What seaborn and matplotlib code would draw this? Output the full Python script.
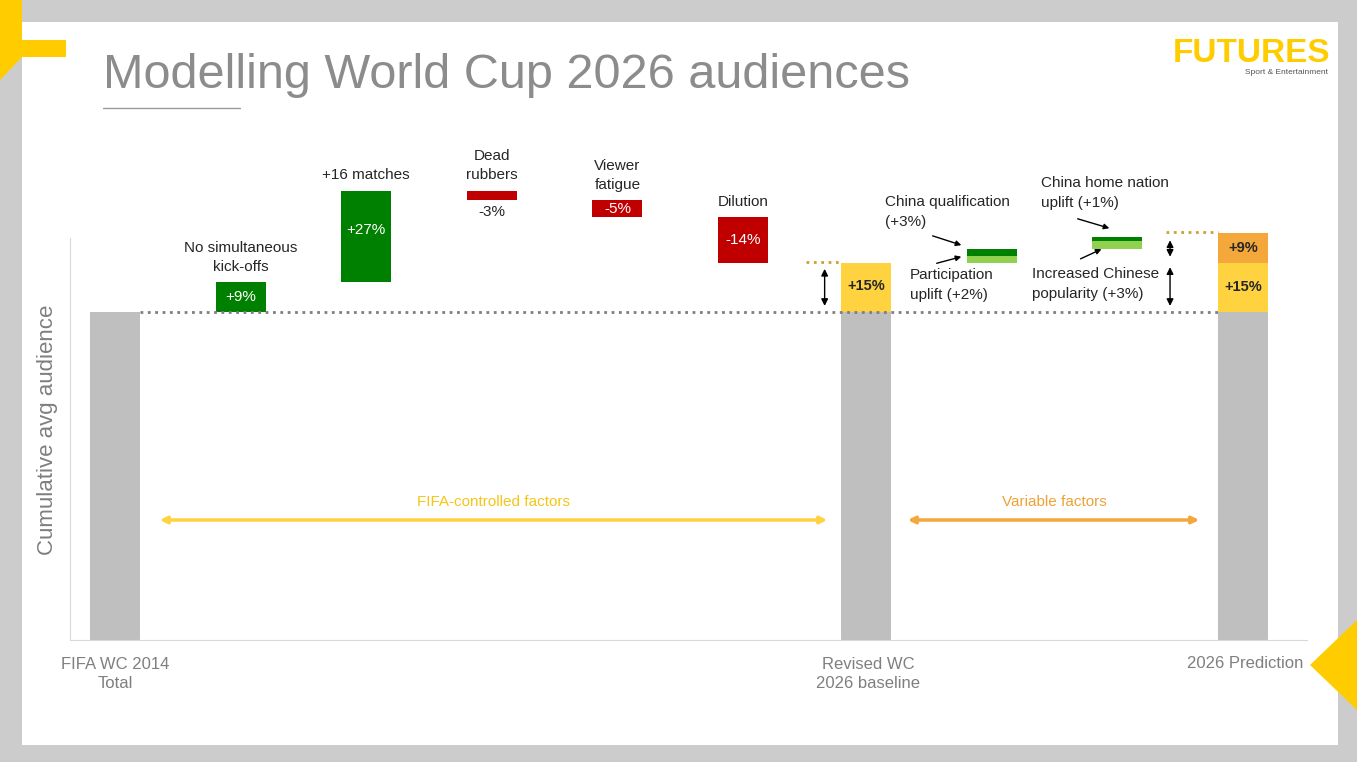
import numpy as np
import pandas as pd
import seaborn as sns
import matplotlib.pyplot as plt
from matplotlib.patches import Rectangle, Polygon

# ---- data ----
steps = ["No simultaneous\nkick-offs", "+16 matches", "Dead\nrubbers", "Viewer\nfatigue", "Dilution"]
step_vals = [9, 28, -3, -5, -14]
step_labels = ["+9%", "+27%", "-3%", "-5%", "-14%"]
base_total = 100
baseline_uplift = 15
variable_uplift = 9
china_light = [2, 2.4]      # participation uplift / increased popularity
china_dark = [2.2, 1.2]     # qualification / home nation uplift
total_labels = ["FIFA WC 2014\nTotal", "Revised WC\n2026 baseline", "2026 Prediction"]

W, H = 1357, 762
GREEN, LGREEN, RED, GREY = "#008000", "#92d050", "#c00000", "#bfbfbf"
YELLOW, ORANGE = "#ffd23f", "#f4a73a"

sns.set_style("white")
plt.rcParams["font.family"] = ["Liberation Sans", "DejaVu Sans"]
plt.rcParams["patch.linewidth"] = 0

fig = plt.figure(figsize=(W / 100, H / 100), dpi=100)
fig.patch.set_facecolor("#cccccc")
bg = fig.add_axes([0, 0, 1, 1])
bg.set_xlim(0, W); bg.set_ylim(H, 0); bg.axis("off")
bg.add_patch(Rectangle((22, 22), 1316, 723, color="white"))
bg.add_patch(Polygon([(0, 0), (22, 0), (22, 40), (66, 40), (66, 57), (22, 57), (0, 80)], color="#ffcc00"))
bg.add_patch(Polygon([(1357, 620), (1310, 665), (1357, 710)], color="#ffcc00"))
bg.text(103, 75, "Modelling World Cup 2026 audiences", fontsize=35, color="#8c8c8c", va="center")
bg.plot([103, 240], [108, 108], color="#999999", lw=1)
bg.text(1330, 53, "FUTURES", fontsize=24, color="#ffcc00", fontweight="bold", ha="right", va="center")
bg.text(1328, 72, "Sport & Entertainment", fontsize=6, color="#555555", ha="right", va="center")
bg.text(48, 430, "Cumulative avg audience", rotation=90, fontsize=16, color="#7f7f7f", ha="center", va="center")

# main axes: x unit = 125.6 px, y unit = 3.28 px
px0, sx, py0, sy = 115, 125.6, 640, 3.28
ax = fig.add_axes([70 / W, (H - 640) / H, 1237 / W, 510 / H])
ax.set_xlim((70 - px0) / sx, (1307 - px0) / sx)
ax.set_ylim(0, 510 / sy)
ax.patch.set_alpha(0)
for s in ["top", "right"]:
    ax.spines[s].set_visible(False)
ax.spines["left"].set_bounds(0, (640 - 238) / sy)
ax.spines["left"].set_color("#d9d9d9")
ax.spines["bottom"].set_color("#d9d9d9")
ax.set_xticks([]); ax.set_yticks([])
bw = 50 / sx

# totals
tot = pd.DataFrame({"x": [0, 5.98, 8.98], "y": [base_total] * 3})
ax.bar(tot["x"], tot["y"], width=bw, color=GREY, lw=0)
ax.bar(5.98, baseline_uplift, bottom=base_total, width=bw, color=YELLOW, lw=0)
ax.bar(8.98, baseline_uplift, bottom=base_total, width=bw, color=YELLOW, lw=0)
ax.bar(8.98, variable_uplift, bottom=base_total + baseline_uplift, width=bw, color=ORANGE, lw=0)
ax.text(5.98, base_total + 8, "+15%", ha="center", va="center", fontsize=10.5, fontweight="bold")
ax.text(8.98, base_total + 7.5, "+15%", ha="center", va="center", fontsize=10.5, fontweight="bold")
ax.text(8.98, base_total + baseline_uplift + 4.5, "+9%", ha="center", va="center", fontsize=10.5, fontweight="bold")

# FIFA-controlled steps
cum = base_total
for i, (name, v, lab) in enumerate(zip(steps, step_vals, step_labels), start=1):
    lo, hi = (cum, cum + v) if v > 0 else (cum + v, cum)
    ax.bar(i, hi - lo, bottom=lo, width=bw, color=GREEN if v > 0 else RED, lw=0)
    if abs(v) >= 5:
        ax.text(i, (lo + hi) / 2 + (2 if v > 20 else 0), lab, ha="center", va="center", color="white", fontsize=11)
    else:
        ax.text(i, lo - 1.5, lab, ha="center", va="top", fontsize=11)
    ax.text(i, hi + 2.5, name, ha="center", va="bottom", fontsize=11, linespacing=1.5)
    cum += v

# variable factors (China)
start = base_total + baseline_uplift
for j, (l, d) in enumerate(zip(china_light, china_dark)):
    x = 6.98 + j
    ax.bar(x, l, bottom=start, width=bw, color=LGREEN, lw=0)
    ax.bar(x, d, bottom=start + l, width=bw, color=GREEN, lw=0)
    start += l + d

# reference lines
ax.plot([0 + bw / 2, 8.98 - bw / 2], [base_total] * 2, ls=":", lw=2, color="#7f7f7f")
ax.plot([5.5, 5.98 - bw / 2], [base_total + 15.3] * 2, ls=":", lw=2, color="#c9a23a")
ax.plot([8.37, 8.98 - bw / 2], [base_total + 24.3] * 2, ls=":", lw=2, color="#c9a23a")

def dbl(x0, y0, x1, y1, c, lw=1):
    ax.annotate("", xy=(x1, y1), xytext=(x0, y0),
                arrowprops=dict(arrowstyle="<|-|>", color=c, lw=lw, mutation_scale=10))

dbl(5.65, base_total + 1, 5.65, base_total + 14, "black")
dbl(8.4, base_total + 1, 8.4, base_total + 14.5, "black")
dbl(8.4, base_total + 16, 8.4, base_total + 22.7, "black")
dbl((157 - px0) / sx, (640 - 520) / sy, (830 - px0) / sx, (640 - 520) / sy, YELLOW, 2.5)
dbl((905 - px0) / sx, (640 - 520) / sy, (1202 - px0) / sx, (640 - 520) / sy, ORANGE, 2.5)
ax.text((493 - px0) / sx, (640 - 502) / sy, "FIFA-controlled factors", color="#f5c518", ha="center", va="center", fontsize=11)
ax.text((1054 - px0) / sx, (640 - 502) / sy, "Variable factors", color="#eea236", ha="center", va="center", fontsize=11)

# China annotations (figure pixel coords via bg)
fs = 11
bg.text(885, 212, "China qualification\n(+3%)", fontsize=fs, va="center", linespacing=1.5)
bg.text(910, 285, "Participation\nuplift (+2%)", fontsize=fs, va="center", linespacing=1.5)
bg.text(1041, 193, "China home nation\nuplift (+1%)", fontsize=fs, va="center", linespacing=1.5)
bg.text(1032, 284, "Increased Chinese\npopularity (+3%)", fontsize=fs, va="center", linespacing=1.5)
for (x0, y0, x1, y1) in [(930, 235, 964, 246), (934, 264, 964, 256),
                         (1075, 218, 1112, 229), (1078, 260, 1104, 248)]:
    bg.annotate("", xy=(x1, y1), xytext=(x0, y0),
                arrowprops=dict(arrowstyle="-|>", color="black", lw=1, mutation_scale=8))

# category labels
for x, lab in zip([115, 868, 1245], total_labels):
    bg.text(x, 663, lab, ha="center", va="top" if False else "center", fontsize=12, color="#7f7f7f",
            linespacing=1.4) if "\n" not in lab else \
        bg.text(x, 674, lab, ha="center", va="center", fontsize=12, color="#7f7f7f", linespacing=1.4)

fig.savefig("out.png", dpi=100)
